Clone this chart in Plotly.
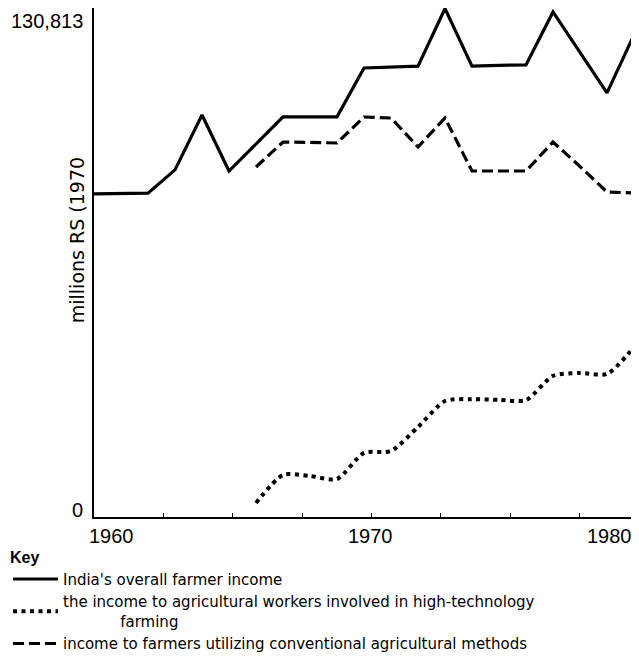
import plotly.graph_objects as go

# ---- data ----
YEARS_OVERALL = list(range(1960, 1981))
OVERALL_INCOME = [84700, 84800, 84900, 91000, 105400, 90700, 97800, 104900, 104900, 104900,
                  117700, 118000, 118200, 133300, 118200, 118400, 118500, 132400, 121800,
                  111200, 126400]

YEARS_CONV = list(range(1966, 1981))
CONVENTIONAL_INCOME = [91750, 98300, 98200, 98050, 104860, 104600, 97000, 104600, 90700,
                       90700, 90700, 98300, 91900, 85200, 84950]

YEARS_HITECH = list(range(1966, 1981))
HITECH_INCOME = [3700, 11000, 10750, 9960, 16800, 17300, 23600, 30400, 30900, 30700,
                 30650, 37000, 37750, 37500, 44550]

Y_TICK_VALUES = [0, 130813]
Y_TICK_LABELS = ["0", "130,813"]
X_LABEL_YEARS = [1960, 1970, 1980]
X_LABELS = ["1960", "1970", "1980"]

SERIES_NAMES = [
    "India's overall farmer income",
    "the income to agricultural workers involved in high-technology<br>"
    + "\u00a0" * 12 + "farming",
    "income to farmers utilizing conventional agricultural methods",
]
Y_TITLE = "millions RS (1970"
LEGEND_TITLE = "Key"

AXIS_FONT = "Liberation Sans, Arial, sans-serif"
TEXT_FONT = "DejaVu Sans, sans-serif"

fig = go.Figure()
fig.add_trace(go.Scatter(x=YEARS_OVERALL, y=OVERALL_INCOME, mode="lines",
                         name=SERIES_NAMES[0],
                         line=dict(color="black", width=3.2)))
fig.add_trace(go.Scatter(x=YEARS_HITECH, y=HITECH_INCOME, mode="lines",
                         name=SERIES_NAMES[1],
                         line=dict(color="black", width=4, dash="4px,4.5px",
                                   shape="spline", smoothing=0.7)))
fig.add_trace(go.Scatter(x=YEARS_CONV, y=CONVENTIONAL_INCOME, mode="lines",
                         name=SERIES_NAMES[2],
                         line=dict(color="black", width=3.2, dash="11px,5px")))

PLOT_W, PLOT_H = 544, 509
ymax = 130813 * PLOT_H / 499

annotations = []
for yv, lab, ysh in zip(Y_TICK_VALUES, Y_TICK_LABELS, [7, -3]):
    annotations.append(dict(x=0, xref="paper", y=yv, yref="y", text=lab,
                            showarrow=False, xanchor="right", yanchor="middle",
                            xshift=-9, yshift=ysh,
                            font=dict(family=AXIS_FONT, size=20, color="black")))
for xv, lab, anc, xsh in zip(X_LABEL_YEARS, X_LABELS, ["left", "center", "right"], [-7, 6, 0]):
    annotations.append(dict(x=xv, xref="x", y=0, yref="paper", text=lab,
                            showarrow=False, xanchor=anc, yanchor="top",
                            xshift=xsh, yshift=-6,
                            font=dict(family=AXIS_FONT, size=20, color="black")))
annotations.append(dict(x=-0.031, xref="paper", y=0.544, yref="paper", text=Y_TITLE,
                        showarrow=False, textangle=-90, xanchor="center", yanchor="middle",
                        font=dict(family=TEXT_FONT, size=19, color="black")))

fig.update_layout(
    width=631, height=700,
    margin=dict(l=86, r=1, t=0, b=700 - PLOT_H, pad=0),
    paper_bgcolor="white", plot_bgcolor="white",
    showlegend=True,
    legend=dict(
        title=dict(text="<b>" + LEGEND_TITLE + "</b>",
                   font=dict(family=AXIS_FONT, size=16, color="black")),
        x=-86 / PLOT_W, y=-0.049, xanchor="left", yanchor="top",
        font=dict(family=TEXT_FONT, size=15, color="black"),
        bgcolor="rgba(0,0,0,0)", borderwidth=0,
        tracegroupgap=0, itemwidth=45, itemclick=False,
    ),
    xaxis=dict(range=[1960, 1960 + PLOT_W / 27], showgrid=False, zeroline=False,
               showline=True, linecolor="black", linewidth=1.5,
               tickmode="linear", tick0=1960, dtick=2.57,
               ticks="inside", ticklen=4, tickcolor="black", showticklabels=False),
    yaxis=dict(range=[0, ymax], showgrid=False, zeroline=False,
               showline=True, linecolor="black", linewidth=1.5,
               ticks="", showticklabels=False),
    annotations=annotations,
)

fig.write_html("out.html")
